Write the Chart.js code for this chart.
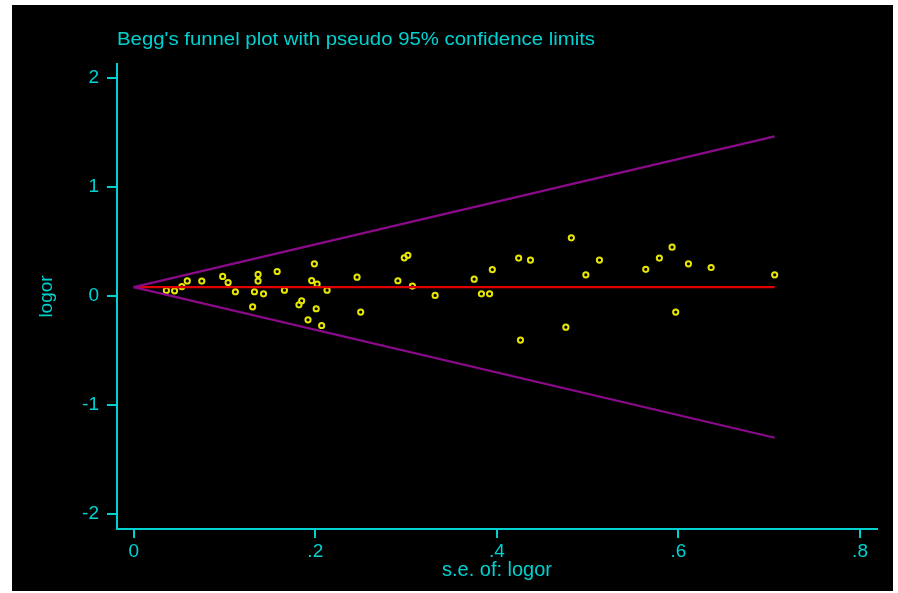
<!DOCTYPE html>
<html>
<head>
<meta charset="utf-8">
<title>Begg's funnel plot</title>
<script src="https://cdn.jsdelivr.net/npm/chart.js@4/dist/chart.umd.min.js"></script>
<style>
  html, body { margin: 0; padding: 0; background: #ffffff; }
  #wrap { width: 898px; height: 593px; position: relative; }
</style>
</head>
<body>
<div id="wrap"><canvas id="funnel" width="898" height="593"></canvas></div>
<script>
// Study estimates: standard error of log odds ratio and the log odds ratio
const seValues = [
  0.036, 0.045, 0.053, 0.059, 0.075, 0.098, 0.104, 0.112, 0.137, 0.137,
  0.133, 0.143, 0.131, 0.158, 0.166, 0.199, 0.196, 0.202, 0.213, 0.185,
  0.182, 0.201, 0.192, 0.207, 0.246, 0.250, 0.291, 0.298, 0.302, 0.307,
  0.332, 0.375, 0.383, 0.392, 0.395, 0.424, 0.437, 0.426, 0.476, 0.482,
  0.498, 0.513, 0.564, 0.579, 0.593, 0.597, 0.611, 0.636, 0.706
];
const logorValues = [
  0.051, 0.048, 0.087, 0.139, 0.137, 0.180, 0.124, 0.039, 0.198, 0.137,
  0.039, 0.020, -0.099, 0.225, 0.054, 0.296, 0.142, 0.110, 0.054, -0.044,
  -0.081, -0.117, -0.219, -0.271, 0.173, -0.148, 0.140, 0.351, 0.374, 0.091,
  0.005, 0.155, 0.020, 0.020, 0.243, 0.348, 0.330, -0.405, -0.286, 0.534,
  0.195, 0.330, 0.245, 0.348, 0.449, -0.148, 0.296, 0.262, 0.195
];

// Pooled estimate and pseudo 95% confidence limits (end points of each line)
const limitSe = [0, 0.706];
const pooledLogor = [0.082, 0.082];
const upperLimit = [0.082, 1.466];
const lowerLimit = [0.082, -1.302];

// Axis ticks
const xTickValues = [0, 0.2, 0.4, 0.6, 0.8];
const xTickLabels = ['0', '.2', '.4', '.6', '.8'];
const yTickValues = [-2, -1, 0, 1, 2];
const yTickLabels = ['-2', '-1', '0', '1', '2'];

const titleText = "Begg's funnel plot with pseudo 95% confidence limits";
const xTitle = 's.e. of: logor';
const yTitle = 'logor';

const CYAN = '#00d2d2';
const FONT = "'Liberation Sans', Arial, sans-serif";

const toPoints = (xs, ys) => xs.map((x, i) => ({ x: x, y: ys[i] }));

// Black plot background and the title text (slightly widened face)
const backdrop = {
  id: 'backdrop',
  beforeDraw(chart) {
    const ctx = chart.ctx;
    ctx.save();
    ctx.fillStyle = '#ffffff';
    ctx.fillRect(0, 0, chart.width, chart.height);
    ctx.fillStyle = '#000000';
    ctx.fillRect(12, 5, 881, 586);
    ctx.restore();
  },
  afterDraw(chart) {
    const ctx = chart.ctx;
    ctx.save();
    ctx.fillStyle = CYAN;
    ctx.font = '18px ' + FONT;
    ctx.textAlign = 'left';
    ctx.textBaseline = 'middle';
    const target = 478;
    const w = ctx.measureText(titleText).width;
    ctx.translate(chart.chartArea.left, 40);
    ctx.scale(target / w, 1);
    ctx.fillText(titleText, 0, 0);
    ctx.restore();
  }
};

new Chart(document.getElementById('funnel'), {
  type: 'scatter',
  data: {
    datasets: [
      {
        label: 'upper limit',
        type: 'line',
        data: toPoints(limitSe, upperLimit),
        borderColor: '#8a0a8a',
        borderWidth: 2.2,
        pointRadius: 0,
        fill: false,
        tension: 0
      },
      {
        label: 'lower limit',
        type: 'line',
        data: toPoints(limitSe, lowerLimit),
        borderColor: '#8a0a8a',
        borderWidth: 2.2,
        pointRadius: 0,
        fill: false,
        tension: 0
      },
      {
        label: 'pooled',
        type: 'line',
        data: toPoints(limitSe, pooledLogor),
        borderColor: '#e00000',
        borderWidth: 2.2,
        pointRadius: 0,
        fill: false,
        tension: 0
      },
      {
        label: 'studies',
        data: toPoints(seValues, logorValues),
        pointStyle: 'circle',
        pointRadius: 2.6,
        pointBorderWidth: 2,
        borderColor: '#e6e600',
        backgroundColor: 'rgba(0,0,0,0)'
      }
    ]
  },
  options: {
    responsive: false,
    animation: false,
    events: [],
    layout: { padding: { left: 0, top: 64, right: 21, bottom: 0 } },
    plugins: {
      legend: { display: false },
      tooltip: { enabled: false },
      title: { display: false }
    },
    scales: {
      x: {
        type: 'linear',
        position: 'bottom',
        min: -0.0184,
        max: 0.8187,
        afterFit(scale) { scale.height = 64; },
        afterBuildTicks(scale) { scale.ticks = xTickValues.map(v => ({ value: v })); },
        ticks: {
          color: CYAN,
          font: { family: FONT, size: 19 },
          padding: 2,
          maxRotation: 0,
          autoSkip: false,
          callback(value) {
            const i = xTickValues.findIndex(v => Math.abs(v - value) < 1e-9);
            return i >= 0 ? xTickLabels[i] : '';
          }
        },
        grid: {
          display: true,
          drawOnChartArea: false,
          drawTicks: true,
          tickLength: 9,
          color: CYAN,
          lineWidth: 2
        },
        border: { display: true, color: CYAN, width: 2 },
        title: {
          display: true,
          text: xTitle,
          color: CYAN,
          font: { family: FONT, size: 20 },
          padding: { top: 0, bottom: 11 }
        }
      },
      y: {
        type: 'linear',
        position: 'left',
        min: -2.14,
        max: 2.131,
        afterFit(scale) { scale.width = 117; },
        afterBuildTicks(scale) { scale.ticks = yTickValues.map(v => ({ value: v })); },
        ticks: {
          color: CYAN,
          font: { family: FONT, size: 19 },
          padding: 8,
          autoSkip: false,
          callback(value) {
            const i = yTickValues.findIndex(v => Math.abs(v - value) < 1e-9);
            return i >= 0 ? yTickLabels[i] : '';
          }
        },
        grid: {
          display: true,
          drawOnChartArea: false,
          drawTicks: true,
          tickLength: 10,
          color: CYAN,
          lineWidth: 2
        },
        border: { display: true, color: CYAN, width: 2 },
        title: {
          display: true,
          text: yTitle,
          color: CYAN,
          font: { family: FONT, size: 19 },
          padding: { top: 35, bottom: 0 }
        }
      }
    }
  },
  plugins: [backdrop]
});
</script>
</body>
</html>
